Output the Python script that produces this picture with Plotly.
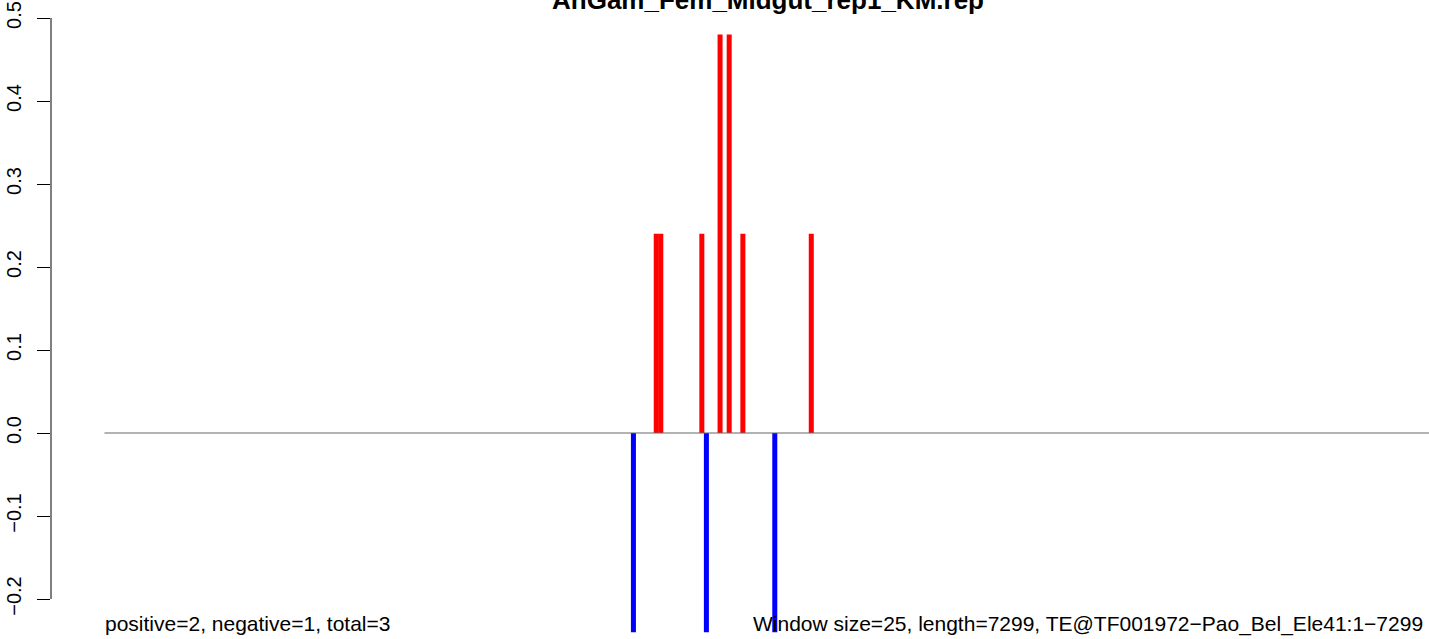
import plotly.graph_objects as go

# ---- data (window index along the TE, value) ----
title_text = "AnGam_Fem_Midgut_rep1_KM.rep"
pos_windows = [121, 122, 131, 135, 137, 140, 155]
pos_values = [0.24, 0.24, 0.24, 0.48, 0.48, 0.24, 0.24]
neg_windows = [116, 132, 147]
neg_values = [-0.24, -0.24, -0.24]
n_windows = 292  # 7299 / 25
tick_vals = [-0.2, -0.1, 0.0, 0.1, 0.2, 0.3, 0.4, 0.5]
tick_text = ["\u22120.2", "\u22120.1", "0.0", "0.1", "0.2", "0.3", "0.4", "0.5"]
left_note = "positive=2, negative=1, total=3"
right_note = "Window size=25, length=7299, TE@TF001972\u2212Pao_Bel_Ele41:1\u22127299"

FONT = "Liberation Sans, Arial, Helvetica, sans-serif"
bar_w = 1.1

fig = go.Figure()
fig.add_trace(go.Bar(x=pos_windows, y=pos_values, width=bar_w,
                     marker=dict(color="#FF0000", line=dict(width=0)),
                     showlegend=False, hoverinfo="x+y"))
fig.add_trace(go.Bar(x=neg_windows, y=neg_values, width=bar_w,
                     marker=dict(color="#0000FF", line=dict(width=0)),
                     showlegend=False, hoverinfo="x+y"))
fig.add_trace(go.Scatter(x=[0, n_windows], y=[0, 0], mode="lines",
                         line=dict(color="#666666", width=1),
                         showlegend=False, hoverinfo="skip"))

fig.update_layout(
    width=1429, height=639,
    margin=dict(l=51, r=0, t=0, b=0),
    paper_bgcolor="white", plot_bgcolor="white",
    barmode="overlay",
    font=dict(family=FONT, color="black"),
    xaxis=dict(range=[-11.73, 290.47], showgrid=False, zeroline=False,
               showticklabels=False, ticks="", showline=False, fixedrange=True),
    yaxis=dict(range=[-0.24819, 0.52169], showgrid=False, zeroline=False,
               showline=False, tickvals=tick_vals, ticktext=tick_text,
               ticks="outside", ticklen=13, tickwidth=1, tickcolor="black",
               tickangle=-90, ticklabelstandoff=8,
               tickfont=dict(family=FONT, size=20, color="black"),
               fixedrange=True),
    shapes=[dict(type="line", xref="paper", yref="y", x0=0, x1=0,
                 y0=tick_vals[0], y1=tick_vals[-1],
                 line=dict(color="black", width=1))],
    annotations=[
        dict(text="<b>" + title_text + "</b>", xref="x", yref="paper",
             x=145.5, y=1.0, xanchor="center", yanchor="middle",
             showarrow=False, font=dict(family=FONT, size=26, color="black")),
        dict(text=left_note, xref="x", yref="y", x=-0.4, y=-0.2301,
             xanchor="left", yanchor="middle", showarrow=False,
             font=dict(family=FONT, size=21, color="black")),
        dict(text=right_note, xref="x", yref="y", x=141.8, y=-0.2301,
             xanchor="left", yanchor="middle", showarrow=False,
             font=dict(family=FONT, size=21, color="black")),
    ],
)

fig.write_html("out.html", config={"displayModeBar": False},
               post_script="document.body.style.margin='0px';")
